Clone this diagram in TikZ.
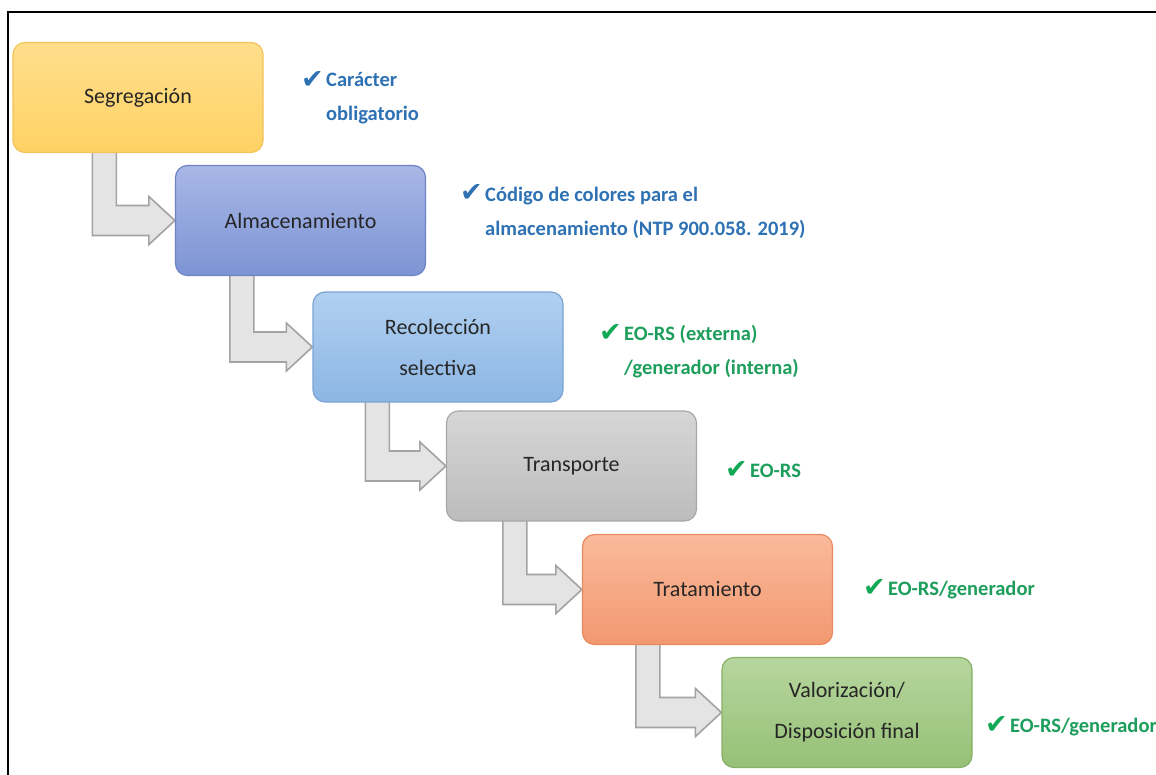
\documentclass[tikz,border=0pt]{standalone}
\usepackage{fontspec}
\setmainfont{Carlito}
\newfontfamily\symfont{DejaVu Sans}
\usetikzlibrary{calc,backgrounds}
\definecolor{txtdark}{HTML}{262626}
\definecolor{annblue}{HTML}{2E72B4}
\definecolor{anngreen}{HTML}{1E9E5C}
\definecolor{chkgreen}{HTML}{12A956}
\definecolor{arrfill}{HTML}{E4E4E4}
\definecolor{arrdraw}{HTML}{A3A3A3}
\tikzset{
  stagebox/.style={draw, line width=1.2pt, rounded corners=12pt, minimum width=250pt,
    minimum height=110pt, align=center, text=txtdark,
    font=\fontsize{22}{41}\selectfont},
  annot/.style={anchor=base west, inner sep=0pt, align=left,
    font=\bfseries\fontsize{20.5}{34}\selectfont},
  chk/.style={anchor=base east, inner sep=0pt, font=\symfont\fontsize{27}{27}\selectfont},
  bentarrow/.style={fill=arrfill, draw=arrdraw, line width=1.6pt, line join=miter}
}
\newcommand{\bentarr}[3]{%
  \path[bentarrow] let \p1=(#1.south west), \p2=(#2.west) in
    (\x1+#3, \y1+6pt) -- (\x1+#3+24pt, \y1+6pt) -- (\x1+#3+24pt, \y2+15pt)
    -- (\x2-26pt, \y2+15pt) -- (\x2-26pt, \y2+24pt) -- (\x2, \y2)
    -- (\x2-26pt, \y2-24pt) -- (\x2-26pt, \y2-15pt) -- (\x1+#3, \y2-15pt) -- cycle;}
\begin{document}
\begin{tikzpicture}[x=1pt,y=-1pt]
\useasboundingbox (0,0) rectangle (1156,774);
\begin{scope}[on background layer]
  \fill[white] (0,0) rectangle (1156,774);
\end{scope}
\clip (0,0) rectangle (1156,774);
% frame
\draw[line width=2.6pt, black] (1160,12) -- (8,12) -- (8,778);
% stage boxes
\node[stagebox, top color={rgb,255:red,255;green,222;blue,140}, bottom color={rgb,255:red,255;green,210;blue,100},
  draw={rgb,255:red,242;green,196;blue,90}] (s1) at (138,97.5) {Segregación};
\node[stagebox, top color={rgb,255:red,168;green,183;blue,230}, bottom color={rgb,255:red,125;green,148;blue,212},
  draw={rgb,255:red,108;green,132;blue,198}] (s2) at (300.5,220.5) {Almacenamiento};
\node[stagebox, top color={rgb,255:red,176;green,208;blue,240}, bottom color={rgb,255:red,140;green,182;blue,228},
  draw={rgb,255:red,122;green,164;blue,212}] (s3) at (438,347) {Recolección\\selectiva};
\node[stagebox, top color={rgb,255:red,214;green,214;blue,214}, bottom color={rgb,255:red,188;green,188;blue,188},
  draw={rgb,255:red,168;green,168;blue,168}] (s4) at (571.5,466) {Transporte};
\node[stagebox, top color={rgb,255:red,250;green,186;blue,155}, bottom color={rgb,255:red,242;green,152;blue,112},
  draw={rgb,255:red,232;green,138;blue,96}] (s5) at (707.5,589.5) {Tratamiento};
\node[stagebox, top color={rgb,255:red,182;green,214;blue,158}, bottom color={rgb,255:red,150;green,192;blue,118},
  draw={rgb,255:red,134;green,176;blue,102}] (s6) at (847,712.5) {Valorización/\\Disposición final};
% bent arrows
\begin{scope}[on background layer]
  \bentarr{s1}{s2}{80pt}
  \bentarr{s2}{s3}{55pt}
  \bentarr{s3}{s4}{53pt}
  \bentarr{s4}{s5}{57pt}
  \bentarr{s5}{s6}{54pt}
\end{scope}
% annotations (base anchor = baseline of last line)
\node[annot, text=annblue] (a1) at (326,120) {Carácter\\obligatorio};
\node[chk, text=annblue] (c1) at (324,88) {✔};
\node[annot, text=annblue] (a2) at (485,235) {Código de colores para el\\almacenamiento (NTP 900.058. 2019)};
\node[chk, text=annblue] (c2) at (483,201) {✔};
\node[annot, text=anngreen] (a3) at (624,374) {EO-RS (externa)\\/generador (interna)};
\node[chk, text=chkgreen] (c3) at (622,341) {✔};
\node[annot, text=anngreen] (a4) at (750,477) {EO-RS};
\node[chk, text=chkgreen] (c4) at (748,478) {✔};
\node[annot, text=anngreen] (a5) at (888,595) {EO-RS/generador};
\node[chk, text=chkgreen] (c5) at (886,596) {✔};
\node[annot, text=anngreen] (a6) at (1010,732) {EO-RS/generador};
\node[chk, text=chkgreen] (c6) at (1008,733) {✔};
\end{tikzpicture}
\end{document}
